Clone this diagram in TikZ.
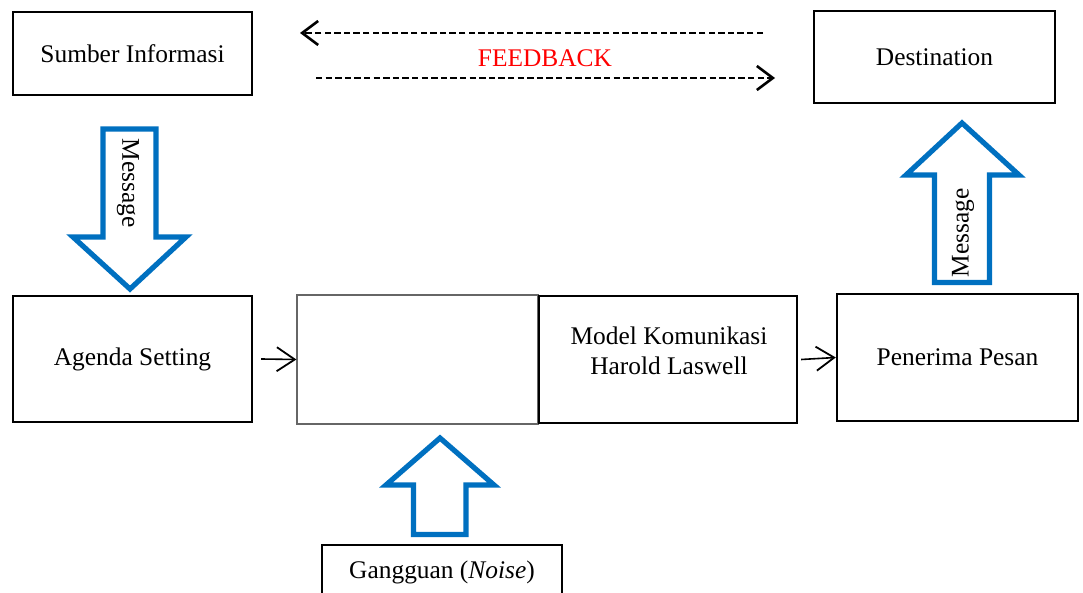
\documentclass[tikz,border=0pt]{standalone}
\usepackage{fontspec}
\setmainfont{Liberation Serif}
\usetikzlibrary{arrows.meta}
\definecolor{msblue}{RGB}{0,112,192}
\begin{document}
\begin{tikzpicture}[x=0.5pt,y=-0.5pt,
  box/.style={draw, line width=1.2pt, inner sep=0pt, font=\fontsize{12.7}{15}\selectfont},
  thinbox/.style={draw=black!60, line width=0.6pt, inner sep=0pt},
  txt/.style={inner sep=0pt, font=\fontsize{12.7}{15}\selectfont, align=center},
  blockarrow/.style={draw=msblue, line width=2.6pt, fill=white, line join=miter},
  fb/.style={line width=1.2pt, dash pattern=on 3.2pt off 1.6pt, -{Straight Barb[length=8pt,width=12pt,line width=1.3pt]}},
  flow/.style={line width=0.8pt, -{Straight Barb[length=9pt,width=12pt,line width=0.9pt]}}]
\useasboundingbox (0,0) rectangle (1083,593);
\clip (0,0) rectangle (1083,593);
% boxes
\node[box, minimum width=119.5pt, minimum height=41.5pt] (src) at (132.5,53.5) {Sumber Informasi};
\node[box, minimum width=120.5pt, minimum height=46pt] (dest) at (934.5,57) {Destination};
\node[box, minimum width=119.5pt, minimum height=63pt] (agenda) at (132.5,359) {Agenda Setting};
\node[thinbox, minimum width=120.5pt, minimum height=64.5pt] (empty) at (417.5,359.5) {};
\node[box, minimum width=129pt, minimum height=63.5pt] (model) at (668,359.5) {};
\node[txt] (modeltxt) at (669,351) {Model Komunikasi\\Harold Laswell};
\node[box, minimum width=120.5pt, minimum height=63.5pt] (recv) at (957.5,357.5) {Penerima Pesan};
\node[box, minimum width=120pt, minimum height=30pt, anchor=north] (noise) at (442,544) {};
\node[txt] (noisetxt) at (442,572) {Gangguan (\textit{Noise})};
% feedback
\coordinate (fbtopA) at (763,33);
\coordinate (fbtopB) at (300,33);
\coordinate (fbbotA) at (316,78);
\coordinate (fbbotB) at (775,78);
\draw[fb] (fbtopA) -- (fbtopB);
\draw[fb] (fbbotA) -- (fbbotB);
\node[txt, text=red] (feedback) at (545,58) {FEEDBACK};
% flow arrows
\draw[flow] ([xshift=4pt]agenda.east) -- (empty.west);
\draw[flow] ([xshift=1.5pt]model.east) -- (recv.west);
% block arrows
\draw[blockarrow] (103,129) -- (156,129) -- (156,237) -- (186,237) -- (130,289) -- (73,237) -- (103,237) -- cycle;
\node[txt, rotate=-90] (msg1) at (128,183) {Message};
\draw[blockarrow] (934.5,282.5) -- (989.5,282.5) -- (989.5,175) -- (1019,175) -- (962,123) -- (906,175) -- (934.5,175) -- cycle;
\node[txt, rotate=90] (msg2) at (963,233) {Message};
\draw[blockarrow] (413.5,534.5) -- (466,534.5) -- (466,485) -- (494,485) -- (440,438) -- (386,485) -- (413.5,485) -- cycle;
\end{tikzpicture}
\end{document}
